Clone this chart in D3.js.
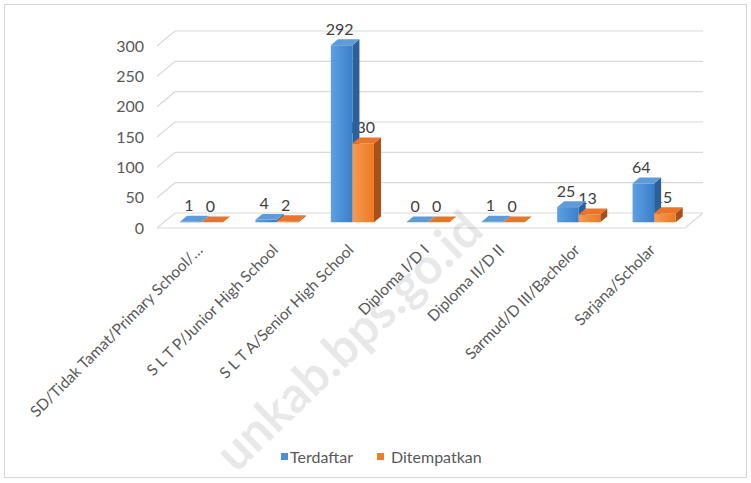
<!DOCTYPE html>
<html>
<head>
<meta charset="utf-8">
<script src="https://cdn.jsdelivr.net/npm/d3@7"></script>
<style>
  html, body { margin: 0; padding: 0; background: #fff; }
  svg { display: block; }
  text { font-family: Lato, "Open Sans", sans-serif; }
</style>
</head>
<body>
<svg id="chart" width="751" height="483"></svg>
<script>
const categories = [
  "SD/Tidak Tamat/Primary School/…",
  "S L T P/Junior High School",
  "S L T A/Senior High School",
  "Diploma I/D I",
  "Diploma II/D II",
  "Sarmud/D III/Bachelor",
  "Sarjana/Scholar"
];
const seriesNames = ["Terdaftar", "Ditempatkan"];
const terdaftar = [1, 4, 292, 0, 1, 25, 64];
const ditempatkan = [0, 2, 130, 0, 0, 13, 15];
const yTicks = [0, 50, 100, 150, 200, 250, 300];

const seriesValues = [terdaftar, ditempatkan];
const colors = {
  Terdaftar: { front0: "#5da0e2", front1: "#3b7fcb", top: "#5f9bd8", side: "#2d5f98" },
  Ditempatkan: { front0: "#f59a52", front1: "#ec7a22", top: "#e9742a", side: "#a94f17" }
};

const svg = d3.select("#chart");

// 3D geometry
const DX = 18, DY = -15;        // full depth offset of floor
const d0 = 0.38, d1 = 0.77;     // bar front/back depth fractions
const proj = (x, y, d) => [x + DX * d, y + DY * d];

const x = d3.scaleBand().domain(categories).range([157, 685]).padding(0);
const xs = d3.scaleBand().domain(seriesNames).range([0, x.bandwidth()]).paddingInner(0).paddingOuter(0.75);
const y = d3.scaleLinear().domain([0, 300]).range([228, 46]);

// border
svg.append("rect").attr("x", 4.5).attr("y", 4.5).attr("width", 742).attr("height", 473)
  .attr("fill", "none").attr("stroke", "#d6d6d6").attr("stroke-width", 1);

// defs gradients
const defs = svg.append("defs");
seriesNames.forEach((s, i) => {
  const g = defs.append("linearGradient").attr("id", "g" + i)
    .attr("x1", "0%").attr("x2", "100%").attr("y1", "0%").attr("y2", "0%");
  g.append("stop").attr("offset", "0%").attr("stop-color", colors[s].front0);
  g.append("stop").attr("offset", "100%").attr("stop-color", colors[s].front1);
});

// gridlines (side wall + back wall)
const [x0r, x1r] = x.range();
const grid = svg.append("g");
yTicks.forEach(t => {
  const yf = y(t);
  const a = proj(x0r, yf, 0), b = proj(x0r, yf, 1), c = proj(x1r, yf, 1);
  grid.append("path")
    .attr("d", `M${a[0]},${a[1]}L${b[0]},${b[1]}L${c[0]},${c[1]}`)
    .attr("fill", "none").attr("stroke", "#d9d9d9").attr("stroke-width", 1.2);
});
// floor front edge and right edge
{
  const a = proj(x0r, y(0), 0), b = proj(x1r, y(0), 0), c = proj(x1r, y(0), 1);
  grid.append("path").attr("d", `M${a[0]},${a[1]}L${b[0]},${b[1]}L${c[0]},${c[1]}`)
    .attr("fill", "none").attr("stroke", "#d9d9d9").attr("stroke-width", 1.2);
}

// y-axis labels
svg.append("g").selectAll("text").data(yTicks).join("text")
  .attr("x", 144).attr("y", d => y(d)).attr("dy", "0.35em")
  .attr("text-anchor", "end").attr("font-size", 16).attr("fill", "#595959")
  .text(d => d);

// data labels (drawn before bars so bars can overlap them as in the reference)
const labels = svg.append("g");
seriesNames.forEach((s, si) => {
  categories.forEach((c, ci) => {
    const v = seriesValues[si][ci];
    const bx = x(c) + xs(s) + xs.bandwidth() / 2 + DX * d0 - 2;
    const by = y(v) + DY * d0;
    labels.append("text")
      .attr("x", bx).attr("y", by - 16).attr("dy", "0.35em")
      .attr("text-anchor", "middle").attr("font-size", 16).attr("fill", "#404040")
      .text(v);
  });
});

// bars
const bars = svg.append("g");
categories.forEach((c, ci) => {
  seriesNames.forEach((s, si) => {
    const v = seriesValues[si][ci];
    const xl = x(c) + xs(s), xr = xl + xs.bandwidth();
    const yt = y(v), yb = y(0);
    const col = colors[s];
    const fTL = proj(xl, yt, d0), fTR = proj(xr, yt, d0), fBR = proj(xr, yb, d0), fBL = proj(xl, yb, d0);
    const bTL = proj(xl, yt, d1), bTR = proj(xr, yt, d1), bBR = proj(xr, yb, d1);
    const poly = pts => "M" + pts.map(p => p.join(",")).join("L") + "Z";
    bars.append("path").attr("d", poly([fTR, bTR, bBR, fBR])).attr("fill", col.side);
    if (yb - yt > 0.01) {
      bars.append("path").attr("d", poly([fTL, fTR, fBR, fBL])).attr("fill", `url(#g${si})`);
    }
    bars.append("path").attr("d", poly([fTL, fTR, bTR, bTL])).attr("fill", col.top);
  });
});

// category labels
svg.append("g").selectAll("text").data(categories).join("text")
  .attr("transform", d => `translate(${x(d) + x.bandwidth() / 2 + 9},${251}) rotate(-45)`)
  .attr("text-anchor", "end").attr("font-size", 15.5).attr("fill", "#595959")
  .text(d => d);

// legend
const leg = svg.append("g").attr("transform", "translate(281,457)");
leg.append("rect").attr("x", 0).attr("y", -4).attr("width", 7).attr("height", 7).attr("fill", "#4a8fd8");
leg.append("text").attr("x", 9).attr("y", 0).attr("dy", "0.35em").attr("font-size", 16).attr("fill", "#595959").text("Terdaftar");
leg.append("rect").attr("x", 96).attr("y", -4).attr("width", 7).attr("height", 7).attr("fill", "#ef7d2a");
leg.append("text").attr("x", 110).attr("y", 0).attr("dy", "0.35em").attr("font-size", 16).attr("fill", "#595959").text("Ditempatkan");

// faint watermark as in the reference image
svg.append("text")
  .attr("transform", "translate(236,474) rotate(-44)")
  .attr("font-family", "'Open Sans', sans-serif")
  .attr("font-size", 50).attr("font-weight", "bold").attr("fill", "#000").attr("fill-opacity", 0.09)
  .text("unkab.bps.go.id");
</script>
</body>
</html>
